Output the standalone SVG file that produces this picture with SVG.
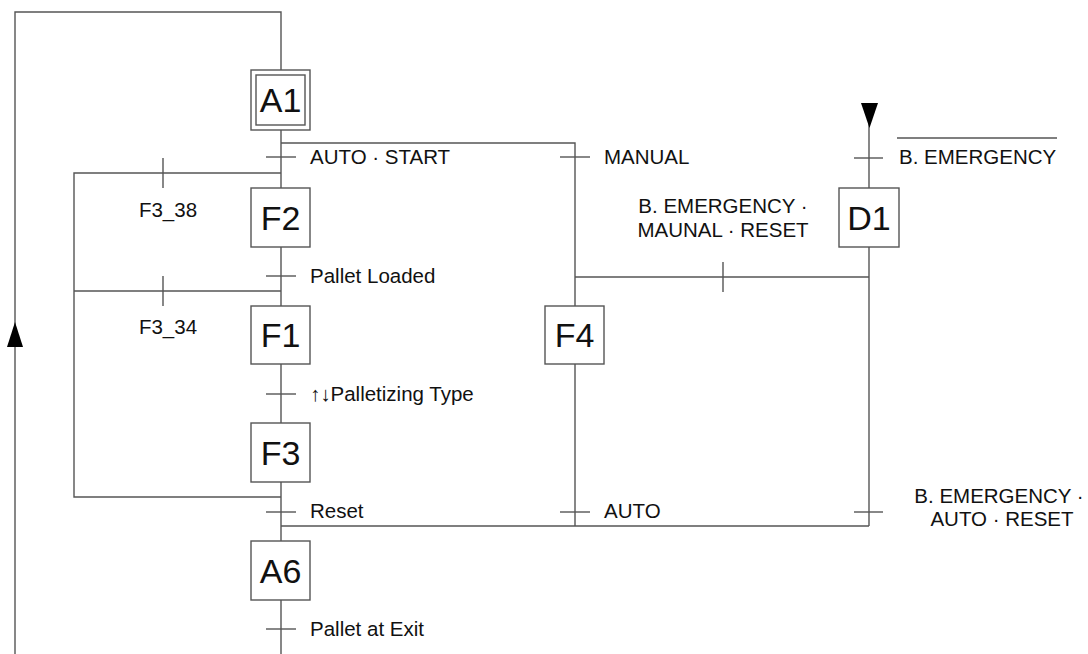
<svg xmlns="http://www.w3.org/2000/svg" width="1088" height="654" viewBox="0 0 1088 654">
<style>
.ln{stroke:#555;stroke-width:1.4;fill:none}
.box{fill:#fff;stroke:#555;stroke-width:1.4}
.lbl{font-family:"Liberation Sans",Arial,sans-serif;font-size:34px;fill:#111;text-anchor:middle}
.t{font-family:"Liberation Sans",Arial,sans-serif;font-size:20.5px;fill:#111}
.c{text-anchor:middle}
</style>
<rect width="1088" height="654" fill="#fff"/>
<g id="connectors">
<polyline class="ln" points="15,654 15,12 281,12 281,654"/>
<polygon points="15,322 7,347 23,347" fill="#000"/>
<polyline class="ln" points="281,143 575,143 575,526"/>
<line class="ln" x1="281" y1="526" x2="869" y2="526"/>
<line class="ln" x1="869" y1="110" x2="869" y2="526"/>
<polygon points="861,103 878,103 869.5,128" fill="#000"/>
<line class="ln" x1="575" y1="277" x2="869" y2="277"/>
<polyline class="ln" points="281,173 74,173 74,497 281,497"/>
<line class="ln" x1="74" y1="291" x2="281" y2="291"/>
<line class="ln" x1="266" y1="157" x2="296" y2="157"/>
<line class="ln" x1="560" y1="157" x2="590" y2="157"/>
<line class="ln" x1="854" y1="158" x2="883" y2="158"/>
<line class="ln" x1="163" y1="158" x2="163" y2="188"/>
<line class="ln" x1="266" y1="276" x2="296" y2="276"/>
<line class="ln" x1="163" y1="276" x2="163" y2="306"/>
<line class="ln" x1="723" y1="262" x2="723" y2="292"/>
<line class="ln" x1="266" y1="394" x2="296" y2="394"/>
<line class="ln" x1="266" y1="512" x2="296" y2="512"/>
<line class="ln" x1="560" y1="512" x2="590" y2="512"/>
<line class="ln" x1="854" y1="512" x2="883" y2="512"/>
<line class="ln" x1="266" y1="629" x2="296" y2="629"/>
<line class="ln" x1="897" y1="138" x2="1057" y2="138"/>
</g>
<g id="A1">
<rect class="box" x="251" y="70" width="59" height="60"/>
<rect class="box" x="256" y="75" width="49" height="50"/>
<text class="lbl" x="280.5" y="112">A1</text>
</g>
<g id="F2">
<rect class="box" x="251" y="188" width="59" height="59"/>
<text class="lbl" x="280.5" y="230">F2</text>
</g>
<g id="F1">
<rect class="box" x="251" y="306" width="59" height="58"/>
<text class="lbl" x="280.5" y="347">F1</text>
</g>
<g id="F3">
<rect class="box" x="251" y="423" width="59" height="59"/>
<text class="lbl" x="280.5" y="465">F3</text>
</g>
<g id="A6">
<rect class="box" x="251" y="541" width="59" height="59"/>
<text class="lbl" x="280.5" y="583">A6</text>
</g>
<g id="F4">
<rect class="box" x="545" y="306" width="59" height="58"/>
<text class="lbl" x="574.5" y="347">F4</text>
</g>
<g id="D1">
<rect class="box" x="839" y="188" width="60" height="59"/>
<text class="lbl" x="869" y="230">D1</text>
</g>
<g id="labels">
<text class="t" x="310" y="164">AUTO · START</text>
<text class="t" x="604" y="164">MANUAL</text>
<text class="t" x="899" y="164">B. EMERGENCY</text>
<text class="t c" x="168" y="217">F3_38</text>
<text class="t" x="310" y="283">Pallet Loaded</text>
<text class="t c" x="168" y="334">F3_34</text>
<text class="t c" x="723" y="213">B. EMERGENCY ·</text>
<text class="t c" x="723" y="237">MAUNAL · RESET</text>
<text class="t" x="310" y="401">↑↓Palletizing Type</text>
<text class="t" x="310" y="518">Reset</text>
<text class="t" x="604" y="518">AUTO</text>
<text class="t c" x="999" y="503">B. EMERGENCY ·</text>
<text class="t c" x="1002" y="526">AUTO · RESET</text>
<text class="t" x="310" y="636">Pallet at Exit</text>
</g>
</svg>
